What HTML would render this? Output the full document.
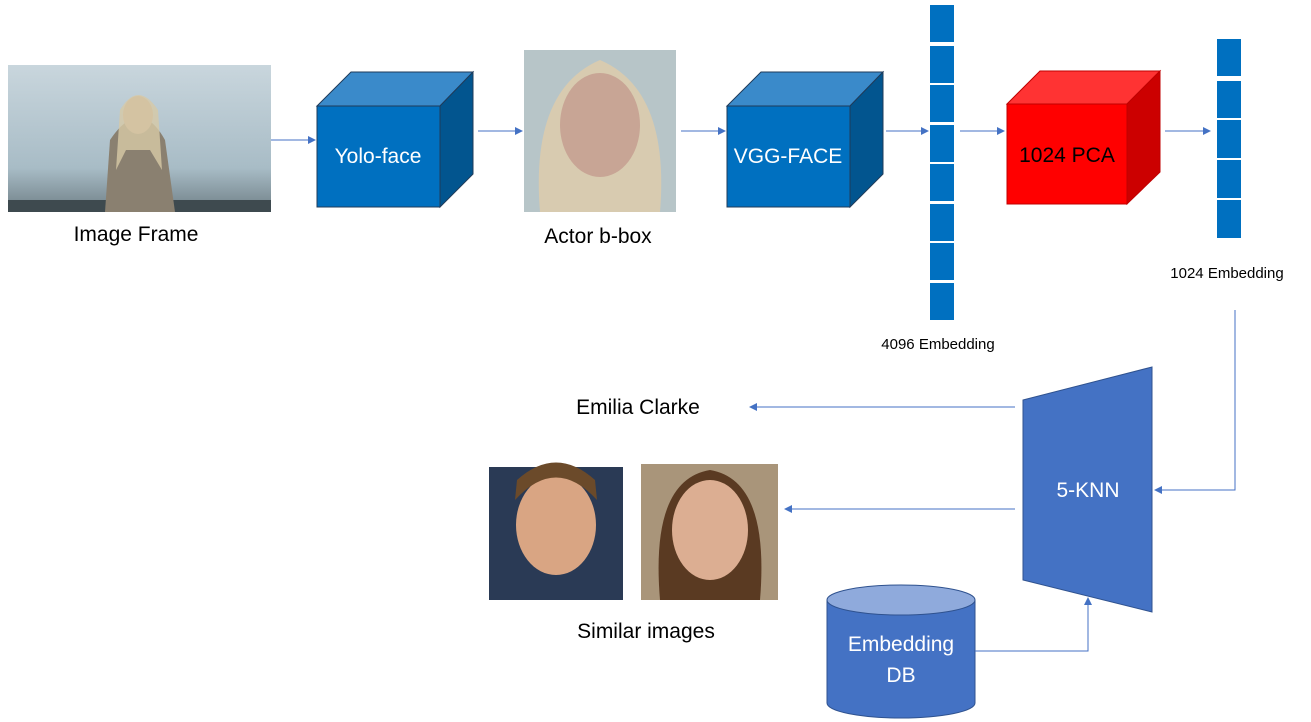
<!DOCTYPE html>
<html><head><style>body{margin:0;background:#fff}svg{display:block}text{font-family:"Liberation Sans",Calibri,sans-serif}</style></head><body>
<svg width="1311" height="722" xmlns="http://www.w3.org/2000/svg">
<defs><marker id="a" markerWidth="8" markerHeight="8" refX="7" refY="4" orient="auto" markerUnits="userSpaceOnUse"><path d="M0,0 L8,4 L0,8z" fill="#4472C4"/></marker>
<linearGradient id="snow" x1="0" y1="0" x2="0" y2="1"><stop offset="0" stop-color="#c9d6dd"/><stop offset="0.7" stop-color="#a8bcc6"/><stop offset="1" stop-color="#6f7f86"/></linearGradient></defs>
<!-- image frame -->
<rect x="8" y="65" width="263" height="147" fill="url(#snow)"/>
<rect x="8" y="200" width="263" height="12" fill="#3e4a4f"/>
<path d="M105,212 L110,140 Q140,95 165,140 L175,212z" fill="#8a8070"/>
<ellipse cx="138" cy="115" rx="15" ry="19" fill="#c9a890"/>
<path d="M120,110 Q138,80 158,110 L162,170 L150,150 L126,150 L116,170z" fill="#d7c9a6" opacity="0.8"/>
<text x="136" y="241" font-size="21" text-anchor="middle">Image Frame</text>
<line x1="271" y1="140" x2="315" y2="140" stroke="#4472C4" marker-end="url(#a)"/>
<!-- yolo cube -->
<polygon points="317,106 351,72 473,72 440,106" fill="#3A8ACA" stroke="#1f3b5a"/>
<polygon points="440,106 473,72 473,174 440,207" fill="#02558F" stroke="#1f3b5a"/>
<rect x="317" y="106" width="123" height="101" fill="#0070C0" stroke="#1f3b5a"/>
<text x="378" y="163" font-size="21" fill="#fff" text-anchor="middle">Yolo-face</text>
<line x1="478" y1="131" x2="522" y2="131" stroke="#4472C4" marker-end="url(#a)"/>
<!-- actor face -->
<rect x="524" y="50" width="152" height="162" fill="#b7c5c8"/>
<path d="M540,212 Q530,90 600,60 Q670,90 660,212z" fill="#d8cbb0"/>
<ellipse cx="600" cy="125" rx="40" ry="52" fill="#c8a595"/>
<text x="598" y="243" font-size="21" text-anchor="middle">Actor b-box</text>
<line x1="681" y1="131" x2="725" y2="131" stroke="#4472C4" marker-end="url(#a)"/>
<!-- vgg cube -->
<polygon points="727,106 761,72 883,72 850,106" fill="#3A8ACA" stroke="#1f3b5a"/>
<polygon points="850,106 883,72 883,174 850,207" fill="#02558F" stroke="#1f3b5a"/>
<rect x="727" y="106" width="123" height="101" fill="#0070C0" stroke="#1f3b5a"/>
<text x="788" y="163" font-size="21" fill="#fff" text-anchor="middle">VGG-FACE</text>
<line x1="886" y1="131" x2="928" y2="131" stroke="#4472C4" marker-end="url(#a)"/>
<!-- 4096 bar -->
<g fill="#0070C0">
<rect x="930" y="5" width="24" height="37"/><rect x="930" y="46" width="24" height="37"/><rect x="930" y="85" width="24" height="37"/><rect x="930" y="125" width="24" height="37"/><rect x="930" y="164" width="24" height="37"/><rect x="930" y="204" width="24" height="37"/><rect x="930" y="243" width="24" height="37"/><rect x="930" y="283" width="24" height="37"/>
</g>
<text x="938" y="349" font-size="15" text-anchor="middle">4096 Embedding</text>
<line x1="960" y1="131" x2="1004" y2="131" stroke="#4472C4" marker-end="url(#a)"/>
<!-- PCA cube -->
<polygon points="1007,104 1040,71 1160,71 1127,104" fill="#FF3333" stroke="#c00000"/>
<polygon points="1127,104 1160,71 1160,172 1127,204" fill="#CC0000" stroke="#c00000"/>
<rect x="1007" y="104" width="120" height="100" fill="#FF0000" stroke="#c00000"/>
<text x="1067" y="162" font-size="21" fill="#000" text-anchor="middle">1024 PCA</text>
<line x1="1165" y1="131" x2="1210" y2="131" stroke="#4472C4" marker-end="url(#a)"/>
<!-- 1024 bar -->
<g fill="#0070C0">
<rect x="1217" y="39" width="24" height="37"/><rect x="1217" y="81" width="24" height="37"/><rect x="1217" y="120" width="24" height="38"/><rect x="1217" y="160" width="24" height="38"/><rect x="1217" y="200" width="24" height="38"/>
</g>
<text x="1227" y="278" font-size="15" text-anchor="middle">1024 Embedding</text>
<polyline points="1235,310 1235,490 1155,490" fill="none" stroke="#4472C4" marker-end="url(#a)"/>
<!-- KNN -->
<polygon points="1023,400 1152,367 1152,612 1023,580" fill="#4472C4" stroke="#2f528f"/>
<text x="1088" y="497" font-size="21" fill="#fff" text-anchor="middle">5-KNN</text>
<line x1="1015" y1="407" x2="750" y2="407" stroke="#4472C4" marker-end="url(#a)"/>
<text x="638" y="414" font-size="21" text-anchor="middle">Emilia Clarke</text>
<line x1="1015" y1="509" x2="785" y2="509" stroke="#4472C4" marker-end="url(#a)"/>
<!-- similar images -->
<rect x="489" y="467" width="134" height="133" fill="#2a3a55"/>
<ellipse cx="556" cy="525" rx="40" ry="50" fill="#d9a583"/>
<path d="M515,500 Q556,455 597,500 L595,480 Q556,445 517,480z" fill="#6b4a2a"/>
<rect x="641" y="464" width="137" height="136" fill="#a9957a"/>
<path d="M660,600 Q650,480 710,470 Q770,480 760,600z" fill="#5a3a22"/>
<ellipse cx="710" cy="530" rx="38" ry="50" fill="#dcae92"/>
<text x="646" y="638" font-size="21" text-anchor="middle">Similar images</text>
<!-- cylinder -->
<path d="M827,600 L827,703 A74,15 0 0 0 975,703 L975,600z" fill="#4472C4" stroke="#2f528f"/>
<ellipse cx="901" cy="600" rx="74" ry="15" fill="#8FAADC" stroke="#2f528f"/>
<text x="901" y="651" font-size="21" fill="#fff" text-anchor="middle">Embedding</text>
<text x="901" y="682" font-size="21" fill="#fff" text-anchor="middle">DB</text>
<polyline points="975,651 1088,651 1088,598" fill="none" stroke="#4472C4" marker-end="url(#a)"/>
</svg>
</body></html>
